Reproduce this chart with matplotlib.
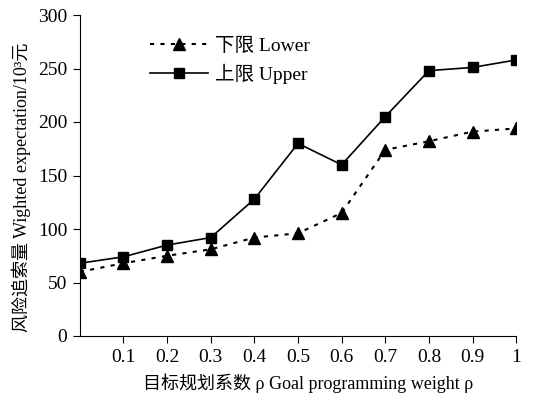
import matplotlib
matplotlib.use("Agg")
import matplotlib.pyplot as plt

plt.rcParams["font.family"] = ["Liberation Serif", "Noto Sans CJK SC"]

weights = [0.0, 0.1, 0.2, 0.3, 0.4, 0.5, 0.6, 0.7, 0.8, 0.9, 1.0]
lower = [60, 68, 75, 81, 92, 96, 115, 174, 182, 191, 194]
upper = [68, 74, 85, 92, 128, 180, 160, 205, 248, 251, 258]
xtick_vals = [0.1, 0.2, 0.3, 0.4, 0.5, 0.6, 0.7, 0.8, 0.9, 1.0]
xtick_labels = ["0.1", "0.2", "0.3", "0.4", "0.5", "0.6", "0.7", "0.8", "0.9", "1"]
ytick_vals = [0, 50, 100, 150, 200, 250, 300]

fig = plt.figure(figsize=(5.36, 4.0), dpi=100)
ax = fig.add_axes([0.149, 0.16, 0.814, 0.8025])

ax.plot(weights, lower, color="black", linestyle=(0, (2, 3)), linewidth=1.5,
        marker="^", markersize=9, label="下限 Lower")
ax.plot(weights, upper, color="black", linestyle="-", linewidth=1.2,
        marker="s", markersize=7, label="上限 Upper")

ax.set_xlim(0, 1)
ax.set_ylim(0, 300)
ax.set_xticks(xtick_vals)
ax.set_xticklabels(xtick_labels)
ax.set_yticks(ytick_vals)
ax.spines["top"].set_visible(False)
ax.spines["right"].set_visible(False)
ax.tick_params(direction="out", length=5, labelsize=14, pad=4)

ax.set_xlabel("目标规划系数 ρ Goal programming weight ρ", fontsize=13, labelpad=6)
ax.set_ylabel("风险追索量 Wighted expectation/10³元", fontsize=13, labelpad=5)
ax.xaxis.label.set_x(0.523)
ax.yaxis.label.set_y(0.464)

ax.legend(loc="upper left", bbox_to_anchor=(0.12, 0.985), frameon=False,
          fontsize=14, handlelength=3.0, handletextpad=0.35, labelspacing=0.45)

fig.savefig("out.png", dpi=100)
